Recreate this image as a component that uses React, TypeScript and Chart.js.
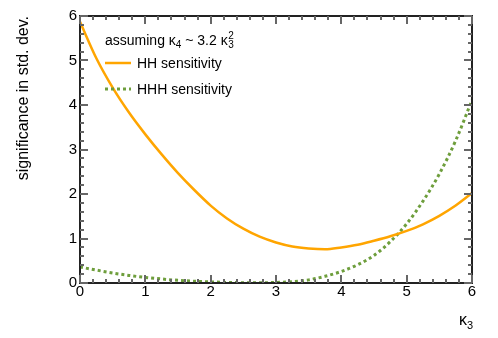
import React, { useEffect, useRef } from "react";
import { Chart, registerables } from "chart.js";
Chart.register(...registerables);

const kappa3 = [0, 0.25, 0.5, 0.75, 1, 1.25, 1.5, 1.75, 2, 2.25, 2.5, 2.75, 3, 3.25, 3.5, 3.75, 4, 4.25, 4.5, 4.75, 5, 5.25, 5.5, 5.75, 6];
const hhValues = [5.87, 5.05, 4.39, 3.83, 3.34, 2.89, 2.47, 2.09, 1.74, 1.45, 1.22, 1.04, 0.91, 0.82, 0.775, 0.757, 0.8, 0.86, 0.95, 1.05, 1.17, 1.32, 1.51, 1.74, 2.02];
const hhhValues = [0.36, 0.29, 0.225, 0.17, 0.125, 0.09, 0.06, 0.04, 0.025, 0.013, 0.007, 0.006, 0.012, 0.03, 0.07, 0.15, 0.26, 0.41, 0.62, 0.93, 1.33, 1.84, 2.45, 3.2, 4.11];
const xTicks = [0, 1, 2, 3, 4, 5, 6];
const yTicks = [0, 1, 2, 3, 4, 5, 6];
const seriesLabels = ["HH sensitivity", "HHH sensitivity"];
const yTitle = "significance in std. dev.";

const FONT = "'Liberation Sans', Arial, Helvetica, sans-serif";

export default function App() {
  const ref = useRef<HTMLCanvasElement>(null);
  useEffect(() => {
    document.body.style.margin = "0";
    const canvas = ref.current!;
    const rootPlugin = {
      id: "rootStyle",
      afterDraw(chart: any) {
        const ctx = chart.ctx;
        const a = chart.chartArea;
        const xs = chart.scales.x, ys = chart.scales.y;
        ctx.save();
        ctx.fillStyle = "#222";
        const L = Math.round(a.left), R = Math.round(a.right), T = Math.round(a.top), B = Math.round(a.bottom);
        ctx.fillRect(L - 1, T - 1, 2, B - T + 2);
        ctx.fillRect(R - 1, T - 1, 2, B - T + 2);
        ctx.fillRect(L - 1, T - 1, R - L + 2, 2);
        ctx.fillRect(L - 1, B - 1, R - L + 2, 2);
        ctx.fillStyle = "#666";
        for (let i = 0; i <= 30; i++) {
          const px = Math.round(xs.getPixelForValue(i / 5));
          const len = i % 5 === 0 ? 8 : 4;
          ctx.fillRect(px - 1, B - len, 2, len);
          ctx.fillRect(px - 1, T, 2, len);
        }
        for (let i = 0; i <= 30; i++) {
          const py = Math.round(ys.getPixelForValue(i / 5));
          const len = i % 5 === 0 ? 8 : 4;
          ctx.fillRect(L, py - 1, len, 2);
          ctx.fillRect(R - len, py - 1, len, 2);
        }
        ctx.restore();

        ctx.save();
        ctx.fillStyle = "#000";
        ctx.textBaseline = "alphabetic";
        ctx.textAlign = "left";
        const big = `14px ${FONT}`, small = `10px ${FONT}`;
        let x = 105; const by = 45;
        ctx.font = big;
        const p1 = "assuming \u03ba";
        ctx.fillText(p1, x, by); x += ctx.measureText(p1).width;
        ctx.font = small; ctx.fillText("4", x, by + 3); x += ctx.measureText("4").width;
        ctx.font = big;
        const p2 = " ~ 3.2 \u03ba";
        ctx.fillText(p2, x, by); x += ctx.measureText(p2).width;
        ctx.font = small;
        ctx.fillText("2", x + 0.5, by - 6);
        ctx.fillText("3", x + 0.5, by + 3);
        const rows = [63, 89];
        chart.data.datasets.forEach((ds: any, i: number) => {
          const yy = rows[i];
          ctx.save();
          ctx.strokeStyle = ds.borderColor;
          ctx.lineWidth = ds.borderWidth;
          ctx.setLineDash(ds.borderDash || []);
          ctx.beginPath(); ctx.moveTo(105, yy); ctx.lineTo(131, yy); ctx.stroke();
          ctx.restore();
          ctx.font = big;
          ctx.fillText(ds.label, 137, yy + 5);
        });
        ctx.font = `16px ${FONT}`;
        ctx.fillText("\u03ba", 459, 325);
        const kw = ctx.measureText("\u03ba").width;
        ctx.font = `11px ${FONT}`;
        ctx.fillText("3", 459 + kw, 329);
        ctx.font = `16px ${FONT}`;
        ctx.translate(28, a.top);
        ctx.rotate(-Math.PI / 2);
        ctx.textAlign = "right";
        ctx.fillText(yTitle, 0, 0);
        ctx.restore();
      },
    };
    const chart = new Chart(canvas, {
      type: "line",
      data: {
        datasets: [
          {
            label: seriesLabels[0],
            data: kappa3.map((k, i) => ({ x: k, y: hhValues[i] })),
            borderColor: "#FFA500",
            borderWidth: 2.5,
            pointRadius: 0,
            cubicInterpolationMode: "monotone",
            fill: false,
          },
          {
            label: seriesLabels[1],
            data: kappa3.map((k, i) => ({ x: k, y: hhhValues[i] })),
            borderColor: "#6E9E3C",
            borderWidth: 3,
            borderDash: [3, 3],
            pointRadius: 0,
            cubicInterpolationMode: "monotone",
            fill: false,
          },
        ],
      },
      options: {
        animation: false,
        responsive: false,
        layout: { padding: { top: 16, right: 26, left: 0, bottom: 0 } },
        plugins: { legend: { display: false }, tooltip: { enabled: false } },
        scales: {
          x: {
            type: "linear",
            min: 0,
            max: 6,
            grid: { display: false, drawTicks: false },
            border: { display: false },
            afterBuildTicks: (s: any) => { s.ticks = xTicks.map((v) => ({ value: v })); },
            afterFit: (s: any) => { s.height = 55; },
            ticks: { font: { size: 15, family: FONT }, color: "#000", padding: 0, maxRotation: 0, autoSkip: false },
          },
          y: {
            type: "linear",
            min: 0,
            max: 6,
            grid: { display: false, drawTicks: false },
            border: { display: false },
            afterBuildTicks: (s: any) => { s.ticks = yTicks.map((v) => ({ value: v })); },
            afterFit: (s: any) => { s.width = 80; },
            ticks: { font: { size: 15, family: FONT }, color: "#000", padding: 3 },
          },
        },
      },
      plugins: [rootPlugin],
    } as any);
    return () => chart.destroy();
  }, []);
  return (
    <div style={{ width: 498, height: 338, background: "#fff" }}>
      <canvas ref={ref} width={498} height={338} />
    </div>
  );
}
